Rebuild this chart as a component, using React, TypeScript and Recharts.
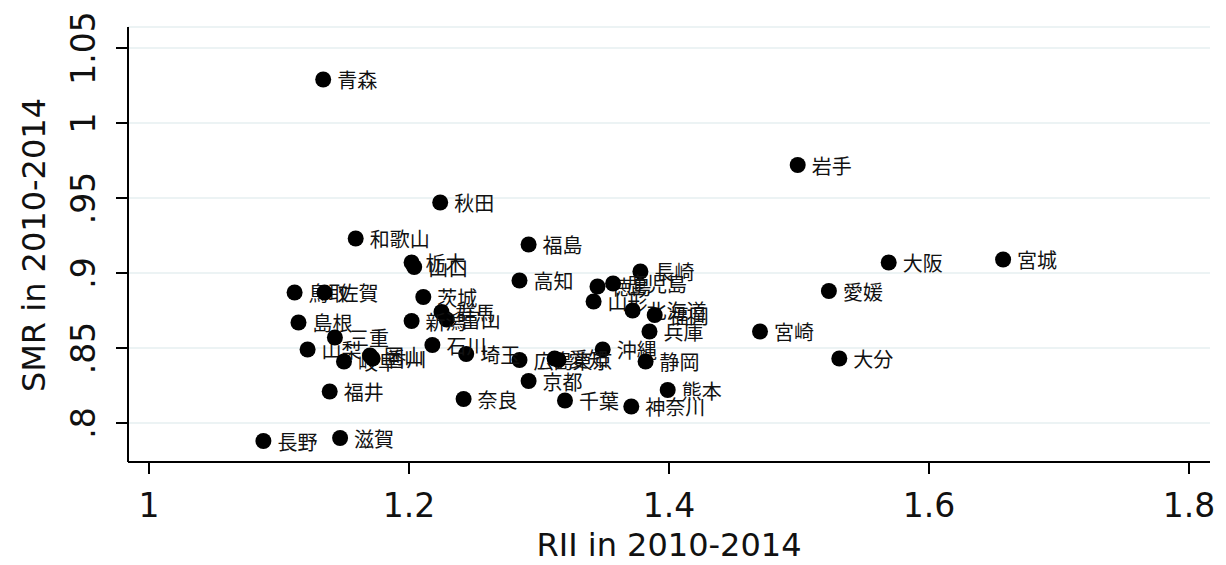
import React from 'react';
import { ScatterChart, Scatter, XAxis, YAxis, CartesianGrid } from 'recharts';

const prefectures = [
    '青森', '岩手', '秋田', '和歌山', '福島', '栃木', '山口', '高知', '長崎', '徳島',
    '鹿児島', '山形', '北海道', '福岡', '兵庫', '沖縄', '静岡', '広島', '愛知', '東京',
    '京都', '奈良', '千葉', '神奈川', '熊本', '宮城', '大阪', '愛媛', '宮崎', '大分',
    '埼玉', '石川', '茨城', '群馬', '富山', '新潟', '鳥取', '佐賀', '島根', '山梨',
    '三重', '岐阜', '岡山', '香川', '福井', '長野', '滋賀',
];

const rii = [
    1.134, 1.499, 1.224, 1.159, 1.292, 1.202, 1.204, 1.285, 1.378, 1.345,
    1.357, 1.342, 1.372, 1.389, 1.385, 1.349, 1.382, 1.285, 1.312, 1.315,
    1.292, 1.242, 1.320, 1.371, 1.399, 1.657, 1.569, 1.523, 1.470, 1.531,
    1.244, 1.218, 1.211, 1.225, 1.229, 1.202, 1.112, 1.135, 1.115, 1.122,
    1.143, 1.150, 1.170, 1.172, 1.139, 1.088, 1.147,
];

const smr = [
    1.029, 0.972, 0.947, 0.923, 0.919, 0.907, 0.904, 0.895, 0.901, 0.891,
    0.893, 0.881, 0.875, 0.872, 0.861, 0.849, 0.841, 0.842, 0.843, 0.842,
    0.828, 0.816, 0.815, 0.811, 0.822, 0.909, 0.907, 0.888, 0.861, 0.843,
    0.846, 0.852, 0.884, 0.874, 0.869, 0.868, 0.887, 0.887, 0.867, 0.849,
    0.857, 0.841, 0.845, 0.843, 0.821, 0.788, 0.790,
];

const xTicks = [1, 1.2, 1.4, 1.6, 1.8];
const yTicks = [0.8, 0.85, 0.9, 0.95, 1, 1.05];
const yTickLabels = ['.8', '.85', '.9', '.95', '1', '1.05'];

const data = prefectures.map((name, i) => ({ name, x: rii[i], y: smr[i] }));

const axisFont = 'DejaVu Sans, Verdana, sans-serif';

const XTick = (props: any) => {
    const { x, y, payload } = props;
    return (
        <text x={x} y={y + 43} textAnchor="middle" fontSize={33} fontFamily={axisFont} fill="#111">
            {String(payload.value)}
        </text>
    );
};

const YTick = (props: any) => {
    const { x, y, payload } = props;
    const idx = yTicks.findIndex(v => Math.abs(v - payload.value) < 1e-6);
    const tx = x - 21;
    return (
        <text x={tx} y={y} transform={`rotate(-90 ${tx} ${y})`} textAnchor="middle" fontSize={33} fontFamily={axisFont} fill="#111">
            {idx >= 0 ? yTickLabels[idx] : payload.value}
        </text>
    );
};

const LabeledDot = (props: any) => {
    const { cx, cy, payload } = props;
    return (
        <g>
            <circle cx={cx} cy={cy} r={8} fill="#000" />
            <text x={cx + 14} y={cy} dominantBaseline="central" fontSize={20}
                fontFamily="Noto Sans CJK JP, sans-serif" fill="#111">
                {payload.name}
            </text>
        </g>
    );
};

const App: React.FC = () => {
    return (
        <div style={{ position: 'absolute', left: 0, top: 0, background: '#fff' }}>
            <ScatterChart width={1226} height={565} margin={{ top: 27, right: 16, left: 0, bottom: 0 }}>
                <CartesianGrid vertical={false} stroke="#e6eff1" strokeWidth={1.5} />
                <XAxis
                    type="number"
                    dataKey="x"
                    domain={[0.98385, 1.81615]}
                    ticks={xTicks}
                    interval={0}
                    height={103}
                    tickSize={12}
                    tickMargin={0}
                    tick={<XTick />}
                    stroke="#000"
                    strokeWidth={2}
                    allowDataOverflow
                    label={{
                        content: () => (
                            <text x={669} y={556} textAnchor="middle" fontSize={32} fontFamily={axisFont} fill="#111">
                                RII in 2010-2014
                            </text>
                        ),
                    }}
                />
                <YAxis
                    type="number"
                    dataKey="y"
                    domain={[0.774, 1.064]}
                    ticks={yTicks}
                    interval={0}
                    width={128}
                    tickSize={12}
                    tickMargin={0}
                    tick={<YTick />}
                    stroke="#000"
                    strokeWidth={2}
                    allowDataOverflow
                    label={{
                        content: () => (
                            <text x={45} y={245} transform="rotate(-90 45 245)" textAnchor="middle" fontSize={32} fontFamily={axisFont} fill="#111">
                                SMR in 2010-2014
                            </text>
                        ),
                    }}
                />
                <Scatter data={data} shape={<LabeledDot />} isAnimationActive={false} />
            </ScatterChart>
        </div>
    );
};

export default App;
